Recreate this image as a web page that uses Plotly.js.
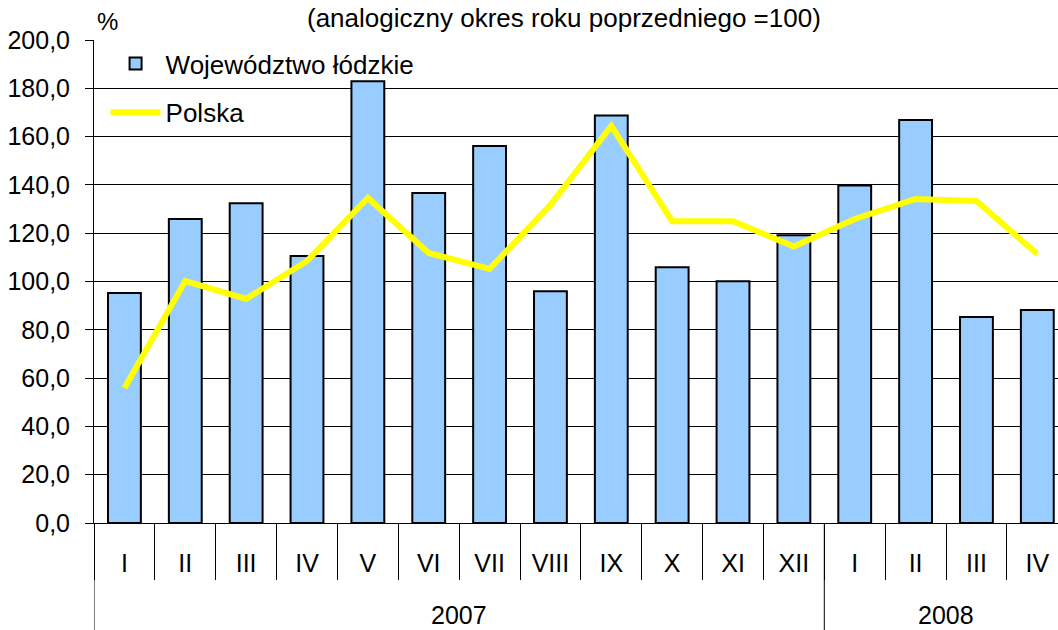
<!DOCTYPE html>
<html>
<head>
<meta charset="utf-8">
<script src="https://cdn.plot.ly/plotly-3.0.1.min.js"></script>
<style>
  html, body { margin: 0; padding: 0; background: #fff; }
  #chart { width: 1058px; height: 630px; }
</style>
</head>
<body>
<div id="chart"></div>
<script>
const years = ['2007','2007','2007','2007','2007','2007','2007','2007','2007','2007','2007','2007','2008','2008','2008','2008'];
const months = ['I','II','III','IV','V','VI','VII','VIII','IX','X','XI','XII','I','II','III','IV'];
const wojewodztwo = [95.2, 125.9, 132.4, 110.6, 182.9, 136.6, 156.1, 96.0, 168.7, 105.9, 100.1, 119.1, 139.8, 166.9, 85.3, 88.2];
const polska = [55.9, 100.2, 92.8, 108.5, 134.6, 111.8, 105.2, 131.7, 164.4, 125.0, 125.0, 114.5, 125.9, 134.2, 133.3, 111.4];
const seriesNames = ['Województwo łódzkie', 'Polska'];
const subtitle = '(analogiczny okres roku poprzedniego =100)';
const unit = '%';

const FONT = 'Liberation Sans, Arial, sans-serif';

// category positions (index of each month)
const idx = months.map((m, i) => i);

// year groups: start/end index for each distinct year
const groups = [];
years.forEach((y, i) => {
  const g = groups[groups.length - 1];
  if (g && g.label === y) g.end = i; else groups.push({ label: y, start: i, end: i });
});

const PLOT_H = 630 - 40 - 107;
const bottomPaper = -(630 - 523) / PLOT_H;

const shapes = groups.map(g => ({
  type: 'line', xref: 'x', yref: 'paper',
  x0: g.start - 0.5, x1: g.start - 0.5, y0: 0, y1: bottomPaper,
  line: { color: '#000000', width: 1 }
}));

const yearAnnotations = groups.map(g => ({
  text: g.label,
  xref: 'x', yref: 'paper',
  x: (g.start + g.end) / 2, y: -(615 - 523) / PLOT_H,
  xanchor: 'center', yanchor: 'middle',
  showarrow: false,
  font: { family: FONT, size: 25, color: '#000' }
}));

const traces = [
  {
    type: 'bar',
    name: seriesNames[0],
    x: idx,
    y: wojewodztwo,
    width: 0.54,
    marker: { color: '#99CCFF', line: { color: '#000000', width: 2 } },
    legendgroup: 'a',
    hoverinfo: 'y'
  },
  {
    type: 'scatter',
    mode: 'lines',
    name: seriesNames[1],
    x: idx,
    y: polska,
    line: { color: '#FFFF00', width: 6 },
    legendgroup: 'b',
    hoverinfo: 'y'
  }
];

const layout = {
  width: 1058,
  height: 630,
  margin: { l: 94, r: 0, t: 40, b: 107 },
  paper_bgcolor: '#ffffff',
  plot_bgcolor: '#ffffff',
  separators: ', ',
  font: { family: FONT, color: '#000000', size: 24 },
  showlegend: true,
  legend: {
    x: 0.012, y: 1.0, xanchor: 'left', yanchor: 'top',
    bgcolor: 'rgba(0,0,0,0)',
    font: { family: FONT, size: 26, color: '#000' },
    traceorder: 'grouped',
    tracegroupgap: 12,
    itemwidth: 50
  },
  xaxis: {
    type: 'linear',
    range: [-0.5, 15.34],
    tickmode: 'array',
    tickvals: idx,
    ticktext: months,
    ticks: '',
    ticklabelstandoff: 18,
    minor: {
      tickmode: 'linear',
      tick0: 0.5,
      dtick: 1,
      ticks: 'outside',
      ticklen: 56,
      tickcolor: '#000000',
      tickwidth: 1,
      showgrid: false
    },
    showline: true,
    linecolor: '#000000',
    linewidth: 1,
    tickfont: { family: FONT, size: 25, color: '#000' },
    showgrid: false,
    zeroline: false,
    fixedrange: true
  },
  yaxis: {
    range: [0, 200],
    dtick: 20,
    tick0: 0,
    tickformat: '.1f',
    showline: true,
    linecolor: '#000000',
    linewidth: 1,
    ticks: 'outside',
    ticklen: 8,
    tickcolor: '#000000',
    tickwidth: 1,
    ticklabelstandoff: 10,
    showgrid: true,
    gridcolor: '#000000',
    gridwidth: 1,
    zeroline: true,
    zerolinecolor: '#000000',
    zerolinewidth: 1,
    tickfont: { family: FONT, size: 25, color: '#000' },
    fixedrange: true
  },
  shapes: shapes,
  annotations: [
    {
      text: subtitle,
      xref: 'paper', yref: 'paper',
      x: 0.4876, y: 1 + (40 - 35) / PLOT_H,
      xanchor: 'center', yanchor: 'bottom',
      showarrow: false,
      font: { family: FONT, size: 26, color: '#000' }
    },
    {
      text: unit,
      xref: 'paper', yref: 'paper',
      x: (107 - 94) / 964, y: 1 + (40 - 22) / PLOT_H,
      xanchor: 'center', yanchor: 'middle',
      showarrow: false,
      font: { family: FONT, size: 24, color: '#000' }
    }
  ].concat(yearAnnotations)
};

Plotly.newPlot('chart', traces, layout, { displayModeBar: false, staticPlot: true });
</script>
</body>
</html>
